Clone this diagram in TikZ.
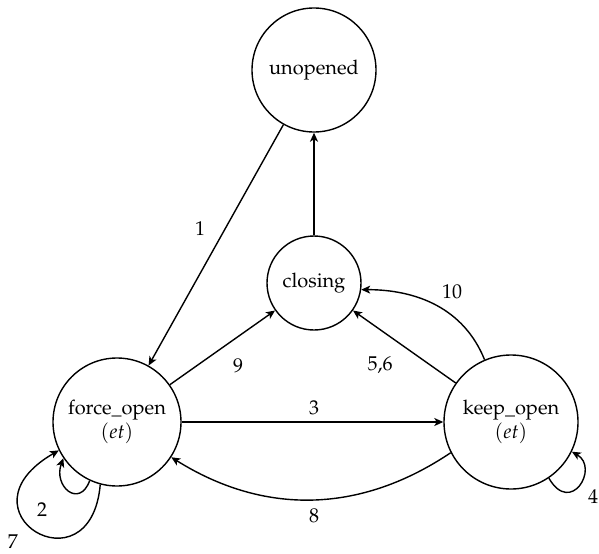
\documentclass[tikz,border=0pt]{standalone}
\usepackage[T1]{fontenc}
\usepackage{mathpazo}
\usetikzlibrary{arrows.meta}
\begin{document}
\begin{tikzpicture}[x=0.5pt,y=0.5pt,
  state/.style={draw, circle, line width=0.7pt, inner sep=0pt, align=center},
  edge/.style={line width=0.7pt, -{Stealth[length=4.5pt,width=4pt,inset=1.2pt]}},
  lbl/.style={inner sep=0pt}]
\useasboundingbox (0,0) rectangle (599,553);

% states
\node[state, minimum size=62pt] (u) at (314,483) {unopened};
\node[state, minimum size=47pt] (c) at (314,270) {closing};
\node[state, minimum size=64pt] (f) at (117,131) {force\_open\\$(et)$};
\node[state, minimum size=67pt] (k) at (511,131) {keep\_open\\$(et)$};

% transitions
\draw[edge] (u) -- (f);
\draw[edge] (c) -- (u);
\draw[edge] (f) -- (c);
\draw[edge] (k) -- (c);
\draw[edge] (f) -- (k);
\draw[edge] (k.113) to[out=112, in=0] (c.-8);
\draw[edge] (k.207) to[bend left=33] (f.-33);

% self loops
\draw[edge] (f.245) .. controls +(250:30) and +(250:30) .. (f.214);
\draw[edge] (f.255) .. controls +(265:110) and +(210:122) .. (f.206);
\draw[edge] (k.-56) .. controls +(300:44) and +(330:32) .. (k.-26);

% transition labels
\node[lbl] (l1) at (200,324) {1};
\node[lbl] (l9) at (238,187) {9};
\node[lbl] (l56) at (380,188) {5,6};
\node[lbl] (l10) at (452,261) {10};
\node[lbl] (l3) at (314,145) {3};
\node[lbl] (l8) at (314,37) {8};
\node[lbl] (l2) at (42,43) {2};
\node[lbl] (l7) at (13,11) {7};
\node[lbl] (l4) at (593,56) {4};
\end{tikzpicture}
\end{document}
